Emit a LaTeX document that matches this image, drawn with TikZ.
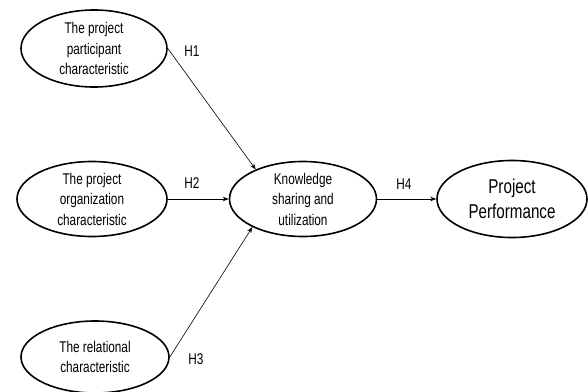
\documentclass[tikz,border=0pt]{standalone}
\usepackage{fontspec}
\setmainfont{Liberation Sans}[FakeStretch=0.76]
\usepackage{tikz}
\usetikzlibrary{arrows.meta,shapes.geometric}

\begin{document}
\begin{tikzpicture}[x=1pt,y=-1pt,>={Stealth[length=6pt,width=4.5pt]},
  oval/.style={shape=ellipse,draw,line width=1.6pt,inner sep=0pt,align=center,font=\fontsize{15.5}{20.5}\selectfont},
  hyp/.style={font=\fontsize{15.5}{17}\selectfont}]
\useasboundingbox (0,0) rectangle (588,391);
\node[oval,minimum width=146pt,minimum height=77pt](part) at (94,48.5){The project\\participant\\characteristic};
\node[oval,minimum width=150pt,minimum height=75pt](org) at (92,199){The project\\organization\\characteristic};
\node[oval,minimum width=148pt,minimum height=72pt](rel) at (95,357){The relational\\characteristic};
\node[oval,minimum width=147pt,minimum height=75pt](ksu) at (303,199){Knowledge\\sharing and\\utilization};
\node[oval,minimum width=150pt,minimum height=77pt,font=\fontsize{20}{25}\selectfont](perf) at (512,199){Project\\Performance};
\draw[->,line width=0.6pt](part.east)--(ksu.148);
\draw[->,line width=0.6pt](org.east)--(ksu.west);
\draw[->,line width=0.6pt](rel.east)--(ksu.209);
\draw[->,line width=0.6pt](ksu.east)--(perf.west);
\node[hyp](h1) at (192,51){H1};
\node[hyp](h2) at (192,183){H2};
\node[hyp](h3) at (196,359){H3};
\node[hyp](h4) at (404,184){H4};
\end{tikzpicture}
\end{document}
